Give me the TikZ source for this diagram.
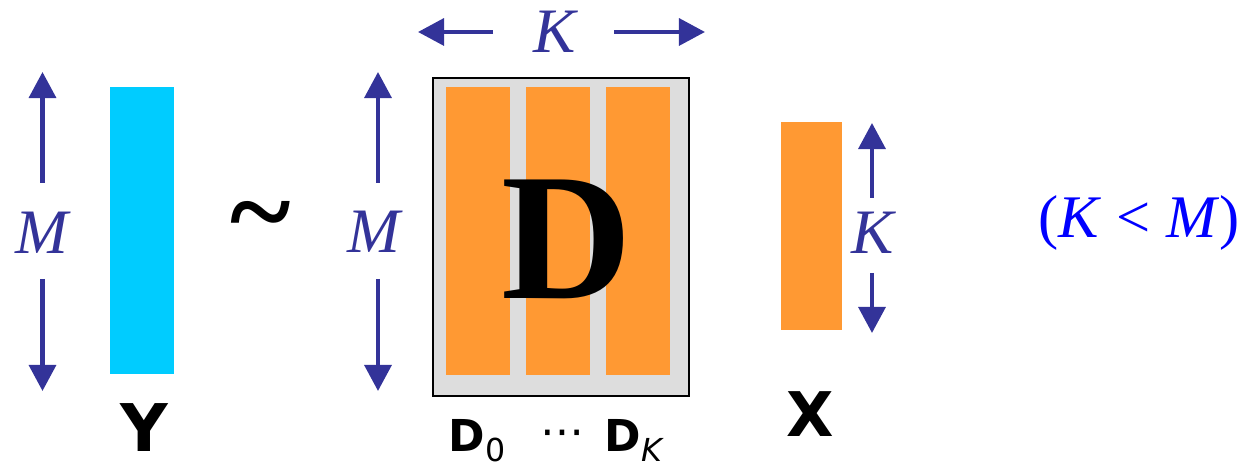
\documentclass[tikz,border=0pt]{standalone}
\usepackage{fontspec}
\setmainfont{Liberation Serif}
\setsansfont{DejaVu Sans}
\usetikzlibrary{arrows.meta}
\definecolor{arrowblue}{HTML}{333399}
\definecolor{barcyan}{HTML}{00CCFF}
\definecolor{barorange}{HTML}{FF9933}
\definecolor{boxgray}{HTML}{DDDDDD}
\definecolor{pureblue}{HTML}{0000FF}
\begin{document}
\begin{tikzpicture}[x=0.01cm,y=-0.01cm,
  dimarrow/.style={draw=arrowblue, line width=1.2pt, -{Triangle[length=7.4pt,width=7.6pt]}},
  dimlabel/.style={text=arrowblue, font=\fontsize{18}{18}\selectfont\itshape, inner sep=0pt, anchor=base},
  barbox/.style={draw=none, inner sep=0pt, outer sep=0pt},
  sflabel/.style={font=\sffamily\bfseries, inner sep=0pt}
]
\useasboundingbox (0,0) rectangle (1245,465);

% bars
\node[barbox, fill=barcyan, minimum width=0.64cm, minimum height=2.87cm] (ybar) at (142,230.5) {};
\node[draw=black, line width=0.65pt, fill=boxgray, inner sep=0pt, minimum width=2.56cm, minimum height=3.18cm] (dbox) at (561,237) {};
\node[barbox, fill=barorange, minimum width=0.64cm, minimum height=2.88cm] (d1) at (478,231) {};
\node[barbox, fill=barorange, minimum width=0.64cm, minimum height=2.88cm] (d2) at (558,231) {};
\node[barbox, fill=barorange, minimum width=0.64cm, minimum height=2.88cm] (d3) at (638,231) {};
\node[barbox, fill=barorange, minimum width=0.61cm, minimum height=2.08cm] (xbar) at (811.5,226) {};

% big D
\node[font=\fontsize{51.5}{51.5}\selectfont\bfseries, anchor=base, inner sep=0pt] (bigD) at (567,299) {D};

% tilde
\node[font=\fontsize{33}{33}\selectfont\bfseries, anchor=center, inner sep=0pt] (tilde) at (261,226) {\char`\~};

% dimension labels
\node[dimlabel] (m1) at (41.5,254) {M};
\node[dimlabel] (m2) at (374,253) {M};
\node[dimlabel] (k1) at (555,53) {K};
\node[dimlabel] (k2) at (873,254) {K};

% dimension arrows
\coordinate (a1s) at (42.5,183); \coordinate (a1e) at (42.5,72);
\coordinate (a2s) at (42.5,279); \coordinate (a2e) at (42.5,391);
\coordinate (b1s) at (378,183); \coordinate (b1e) at (378,72);
\coordinate (b2s) at (378,279); \coordinate (b2e) at (378,391);
\coordinate (c1s) at (493,32); \coordinate (c1e) at (418,32);
\coordinate (c2s) at (614,32); \coordinate (c2e) at (705,32);
\coordinate (e1s) at (872,198); \coordinate (e1e) at (872,123);
\coordinate (e2s) at (872,273); \coordinate (e2e) at (872,333);
\draw[dimarrow] (a1s) -- (a1e);
\draw[dimarrow] (a2s) -- (a2e);
\draw[dimarrow] (b1s) -- (b1e);
\draw[dimarrow] (b2s) -- (b2e);
\draw[dimarrow] (c1s) -- (c1e);
\draw[dimarrow] (c2s) -- (c2e);
\draw[dimarrow] (e1s) -- (e1e);
\draw[dimarrow] (e2s) -- (e2e);

% condition
\node[font=\fontsize{17.2}{17.2}\selectfont, text=pureblue, anchor=base, inner sep=0pt] (cond) at (1139,238) {(\textit{K} < \textit{M})};

% bottom labels
\node[sflabel, font=\fontsize{18.7}{18.7}\selectfont\sffamily\bfseries, anchor=base] (ylab) at (144,452) {Y};
\node[sflabel, font=\fontsize{17.5}{17.5}\selectfont\sffamily\bfseries, anchor=base] (xlab) at (810,437) {X};
\node[sflabel, font=\fontsize{12.5}{12.5}\selectfont\sffamily\bfseries, anchor=base west] (d0lab) at (448,452) {D\raisebox{-2.8pt}{\fontsize{9}{9}\selectfont\mdseries 0}};
\node[font=\fontsize{12.5}{12.5}\selectfont\sffamily, anchor=base, inner sep=0pt] (dots) at (562,447) {⋯};
\node[sflabel, font=\fontsize{12.5}{12.5}\selectfont\sffamily\bfseries, anchor=base west] (dklab) at (604,452) {D\raisebox{-2.8pt}{\fontsize{9}{9}\selectfont\mdseries\itshape K}};
\end{tikzpicture}
\end{document}
